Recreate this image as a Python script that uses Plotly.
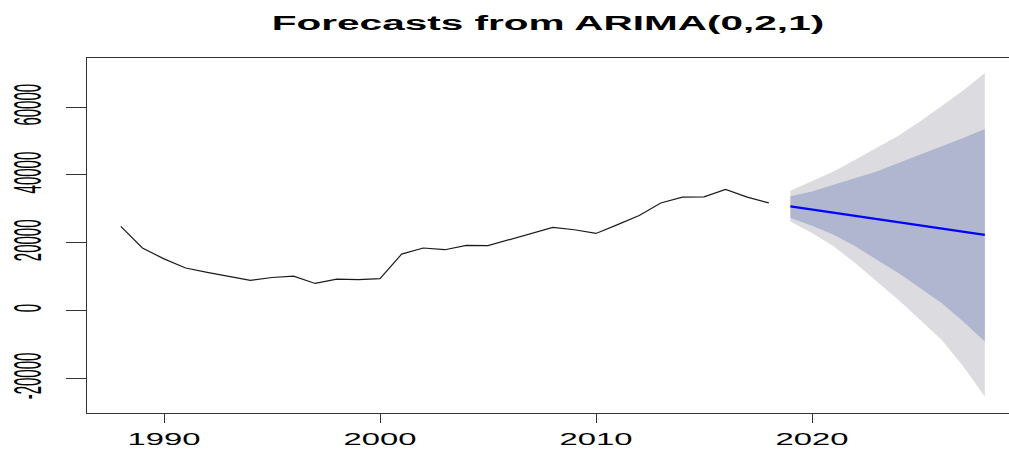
import plotly.graph_objects as go

# Observed annual series
years = list(range(1988, 2019))
values = [24800, 18400, 15200, 12500, 11200, 10000, 8850, 9700, 10100, 7950,
          9250, 9050, 9350, 16600, 18400, 17900, 19200, 19100, 20900, 22800,
          24500, 23800, 22700, 25300, 28000, 31700, 33400, 33500, 35700, 33400,
          31700]

# Ten-step forecast with 80% and 95% prediction intervals
fc_years = list(range(2019, 2029))
fc_mean = [30700, 29750, 28800, 27900, 26950, 26000, 25100, 24150, 23200, 22300]
hi80 = [33650, 35100, 37100, 39050, 41000, 43500, 45950, 48200, 50850, 53500]
lo80 = [27250, 25000, 22350, 18900, 14950, 11050, 6600, 2200, -3250, -9150]
hi95 = [35300, 38050, 41000, 44450, 47900, 51550, 55750, 60200, 64900, 70000]
lo95 = [26250, 22850, 18900, 14000, 8550, 3150, -2750, -8650, -16500, -25400]

x_ticks = [1990, 2000, 2010, 2020]
y_ticks = [-20000, 0, 20000, 40000, 60000]
y_tick_labels = ["-20000", "0", "20000", "40000", "60000"]

fig = go.Figure()

fig.add_trace(go.Scatter(
    x=fc_years + fc_years[::-1], y=hi95 + lo95[::-1],
    fill="toself", fillcolor="#dbdbe0", line=dict(width=0),
    mode="lines", hoverinfo="skip", showlegend=False))
fig.add_trace(go.Scatter(
    x=fc_years + fc_years[::-1], y=hi80 + lo80[::-1],
    fill="toself", fillcolor="#b0b5d0", line=dict(width=0),
    mode="lines", hoverinfo="skip", showlegend=False))
fig.add_trace(go.Scatter(
    x=years, y=values, mode="lines",
    line=dict(color="#1a1a1a", width=1.2), showlegend=False))
fig.add_trace(go.Scatter(
    x=fc_years, y=fc_mean, mode="lines",
    line=dict(color="#0000ff", width=2.2), showlegend=False))

fig.update_layout(
    width=1009, height=450,
    margin=dict(l=87, r=0, t=58, b=37),
    paper_bgcolor="white", plot_bgcolor="white",
    title=dict(text="<b>Forecasts from ARIMA(0,2,1)</b>",
               x=0.5, xref="paper", xanchor="center",
               y=1 - 15 / 450, yref="container", yanchor="top",
               font=dict(family="Liberation Sans", size=21, color="black")),
    font=dict(family="Liberation Sans", color="black"),
)

fig.update_xaxes(
    range=[1986.435, 2029.12], tickvals=x_ticks, automargin=False,
    ticks="outside", ticklen=9, tickwidth=1.3, tickcolor="#333",
    showline=True, linecolor="#333", linewidth=1.3, mirror=True,
    showgrid=False, zeroline=False,
    tickfont=dict(size=16, color="black"), ticklabelstandoff=3)
fig.update_yaxes(
    range=[-30265, 74454], tickvals=y_ticks, ticktext=y_tick_labels,
    automargin=False,
    ticks="outside", ticklen=20, tickwidth=1.3, tickcolor="#333",
    showline=True, linecolor="#333", linewidth=1.3, mirror=False,
    showgrid=False, zeroline=False, tickangle=-90,
    tickfont=dict(size=15, color="black"), ticklabelstandoff=28)

# Widen the lettering horizontally, as in the original graphics device output
post = """
(function(){
var gd = document.getElementById('{plot_id}');
function fit(sel, sx, sy){
  gd.querySelectorAll(sel).forEach(function(t){
    if (t.getAttribute('data-orig') === null) {
      t.setAttribute('data-orig', t.getAttribute('transform') || '');
    }
    var base = t.getAttribute('data-orig');
    t.setAttribute('transform', base);
    var b = t.getBBox();
    var cx = b.x + b.width / 2, cy = b.y + b.height / 2;
    t.setAttribute('transform', base + ' translate(' + cx + ',' + cy + ') scale(' +
      sx + ',' + sy + ') translate(' + (-cx) + ',' + (-cy) + ')');
  });
}
function apply(){
  fit('.gtitle', 1.93, 1);
  fit('.xtick text', 2.05, 1);
  fit('.ytick text', 1, 2.6);
}
apply();
gd.on('plotly_afterplot', apply);
})();
"""

fig.write_html("out.html", post_script=post)
